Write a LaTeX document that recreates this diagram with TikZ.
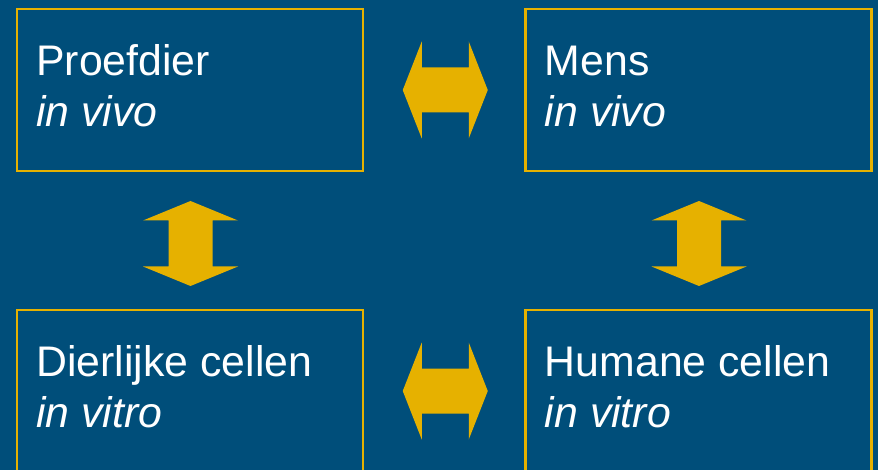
\documentclass[tikz,border=0pt]{standalone}
\usepackage{fontspec}
\setmainfont{Liberation Sans}
\usepackage{tikz}
\usetikzlibrary{calc}
\definecolor{bgblue}{RGB}{0,78,122}
\definecolor{gold}{RGB}{230,177,0}
\def\hdarrow(#1){\fill[gold] ($(#1)+(-42.5,0)$) -- ++(19,-48.5) -- ++(0,26) -- ++(47,0) -- ++(0,-26) -- ++(19,48.5) -- ++(-19,48.5) -- ++(0,-26) -- ++(-47,0) -- ++(0,26) -- cycle;}
\def\vdarrow(#1){\fill[gold] ($(#1)+(0,-42.5)$) -- ++(47.5,19.5) -- ++(-25.5,0) -- ++(0,46) -- ++(25.5,0) -- ++(-47.5,19.5) -- ++(-47.5,-19.5) -- ++(25.5,0) -- ++(0,-46) -- ++(-25.5,-0) -- cycle;}
\tikzset{
	cellbox/.style={draw=gold, line width=2.6pt, minimum width=346pt, minimum height=162pt, inner sep=0pt},
	celltext/.style={text=white, anchor=base west, inner sep=0pt, font=\fontsize{42.8}{51}\selectfont}
}
\begin{document}
\begin{tikzpicture}[x=1pt,y=-1pt]
				\useasboundingbox (0,0) rectangle (878,470);
				\clip (0,0) rectangle (878,470);
				\fill[bgblue] (0,0) rectangle (878,470);
				
				\node[cellbox] (proef) at (190,90) {};
				\node[cellbox] (mens) at (698.5,90) {};
				\node[cellbox] (dier) at (190,391) {};
				\node[cellbox] (humaan) at (698.5,391) {};
				
				\node[celltext] (proefnaam) at ($(proef.north west)+(20.5,68)$) {Proefdier};
				\node[celltext] (proefsoort) at ($(proefnaam.base west)+(0,51)$) {\itshape in vivo};
				\node[celltext] (mensnaam) at ($(mens.north west)+(20.5,68)$) {Mens};
				\node[celltext] (menssoort) at ($(mensnaam.base west)+(0,51)$) {\itshape in vivo};
				\node[celltext] (diernaam) at ($(dier.north west)+(20.5,68)$) {Dierlijke cellen};
				\node[celltext] (diersoort) at ($(diernaam.base west)+(0,51)$) {\itshape in vitro};
				\node[celltext] (humaannaam) at ($(humaan.north west)+(20.5,68)$) {Humane cellen};
				\node[celltext] (humaansoort) at ($(humaannaam.base west)+(0,51)$) {\itshape in vitro};
				
				\coordinate (boven) at ($(proef.east)!0.5!(mens.west)+(1,0)$);
				\coordinate (onder) at ($(dier.east)!0.5!(humaan.west)+(1,0)$);
				\coordinate (links) at ($(proef.south)!0.5!(dier.north)+(0.5,3)$);
				\coordinate (rechts) at ($(mens.south)!0.5!(humaan.north)+(0.5,3)$);
				\hdarrow(boven)
				\hdarrow(onder)
				\vdarrow(links)
				\vdarrow(rechts)
			\end{tikzpicture}
\end{document}
